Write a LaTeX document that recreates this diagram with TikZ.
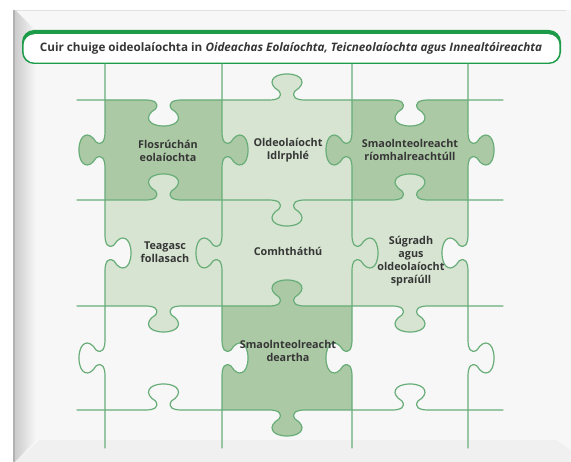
\documentclass[tikz,border=0pt]{standalone}
\usepackage{fontspec}
\setmainfont{Open Sans}
\definecolor{linegreen}{HTML}{68AD78}
\definecolor{darkpiece}{HTML}{ACC9A5}
\definecolor{lightpiece}{HTML}{D6E4D1}
\definecolor{titlegreen}{HTML}{1C9B48}
\definecolor{labeltext}{HTML}{363636}
\definecolor{panel}{HTML}{F7F7F7}

% one knob on a horizontal edge: centre x, y, knob side (+1 down, -1 up), travel (+1 right, -1 left)
\newcommand{\hk}[4]{%
  -- ({#1-18*#4},{#2}) .. controls ({#1-9*#4},{#2}) and ({#1-4*#4},{#2+3*#3}) .. ({#1-8*#4},{#2+9*#3})
  .. controls ({#1-20*#4},{#2+16*#3}) and ({#1-16*#4},{#2+26*#3}) .. ({#1},{#2+26*#3})
  .. controls ({#1+16*#4},{#2+26*#3}) and ({#1+20*#4},{#2+16*#3}) .. ({#1+8*#4},{#2+9*#3})
  .. controls ({#1+4*#4},{#2+3*#3}) and ({#1+9*#4},{#2}) .. ({#1+18*#4},{#2})}
% the same on a vertical edge: centre y, x, knob side (+1 right, -1 left), travel (+1 down, -1 up)
\newcommand{\vk}[4]{%
  -- ({#2},{#1-18*#4}) .. controls ({#2},{#1-9*#4}) and ({#2+3*#3},{#1-4*#4}) .. ({#2+9*#3},{#1-8*#4})
  .. controls ({#2+16*#3},{#1-20*#4}) and ({#2+26*#3},{#1-16*#4}) .. ({#2+26*#3},{#1})
  .. controls ({#2+26*#3},{#1+16*#4}) and ({#2+16*#3},{#1+20*#4}) .. ({#2+9*#3},{#1+8*#4})
  .. controls ({#2+3*#3},{#1+4*#4}) and ({#2},{#1+9*#4}) .. ({#2},{#1+18*#4})}
% a whole piece: left, right, top, bottom, then knob sides of top, right, bottom, left
\newcommand{\piece}[8]{%
  (#1,#3) \hk{(#1+#2)/2}{#3}{#5}{1} -- (#2,#3) \vk{(#3+#4)/2}{#2}{#6}{1}
  -- (#2,#4) \hk{(#1+#2)/2}{#4}{#7}{-1} -- (#1,#4) \vk{(#3+#4)/2}{#1}{#8}{-1} -- cycle}

\tikzset{
  piece line/.style={draw=linegreen, line width=1.2pt, line cap=round, line join=round},
  dark piece/.style={fill=darkpiece},
  light piece/.style={fill=lightpiece},
  piecetext/.style={font=\bfseries\fontsize{10.8}{13}\selectfont, text=labeltext, align=center, inner sep=0pt},
}

\begin{document}
\begin{tikzpicture}[x=1pt, y=-1pt]
  \useasboundingbox (0,0) rectangle (571,462);
  % frame
  \fill[panel] (13,10) rectangle (571,462);
  \shade[left color=black!20, right color=panel] (15,10) -- (36,31) -- (36,440) -- (15,462) -- cycle;
  \fill[black!6] (15,462) -- (40,440) -- (556,440) -- (571,450) -- (571,462) -- cycle;
  \fill[black!30] (13,10) rectangle (15,462);
  \draw[black!12, line width=0.8pt] (15,10.4) -- (566,10.4);

  % title
  \fill[titlegreen, rounded corners=12pt] (22,30) rectangle (561,64);
  \fill[white, rounded corners=11pt] (23.6,34.2) rectangle (559.4,62.6);
  \node (title) [font=\bfseries\fontsize{11.7}{14}\selectfont, text=labeltext] at (291,48.5)
    {Cuir chuige oideolaíochta in \textit{Oideachas Eolaíochta, Teicneolaíochta agus Innealtóireachta}};

  % pieces
  \path[dark piece]  \piece{105}{222}{100}{200}{1}{1}{-1}{-1};
  \path[light piece] \piece{222}{352}{100}{200}{-1}{-1}{1}{1};
  \path[dark piece]  \piece{352}{468}{100}{200}{1}{1}{-1}{-1};
  \path[light piece] \piece{105}{222}{200}{306}{-1}{-1}{1}{1};
  \path[light piece] \piece{222}{352}{200}{306}{1}{1}{-1}{-1};
  \path[light piece] \piece{352}{468}{200}{306}{-1}{-1}{1}{1};
  \path[dark piece]  \piece{222}{352}{306}{410}{-1}{-1}{1}{1};

  % cuts
  \foreach \y/\a/\b/\c in {100/1/-1/1, 200/-1/1/-1, 306/1/-1/1, 410/-1/1/-1}
    \draw[piece line] (77,\y) \hk{163.5}{\y}{\a}{1} \hk{287}{\y}{\b}{1} \hk{410}{\y}{\c}{1} -- (503,\y);
  \foreach \x/\a/\b/\c in {105/-1/1/-1, 222/1/-1/1, 352/-1/1/-1, 468/1/-1/1}
    \draw[piece line] (\x,64) \vk{150}{\x}{\a}{1} \vk{253}{\x}{\b}{1} \vk{358}{\x}{\c}{1} -- (\x,448);

  % labels
  \node (fios)   [piecetext] at (168,151) {Flosrúchán\\eolaíochta};
  \node (idir)   [piecetext] at (288,150) {Oldeolaíocht\\Idlrphlé};
  \node (riomh)  [piecetext] at (410,150) {Smaolnteolreacht\\ríomhalreachtúll};
  \node (teagasc)[piecetext] at (165,252) {Teagasc\\follasach};
  \node (comh)   [piecetext] at (288,251) {Comhtháthú};
  \node (sugradh)[piecetext] at (411,261) {Súgradh\\agus\\oldeolaíocht\\spraíúll};
  \node (dearadh)[piecetext] at (288,351) {Smaolnteolreacht\\deartha};
\end{tikzpicture}
\end{document}
